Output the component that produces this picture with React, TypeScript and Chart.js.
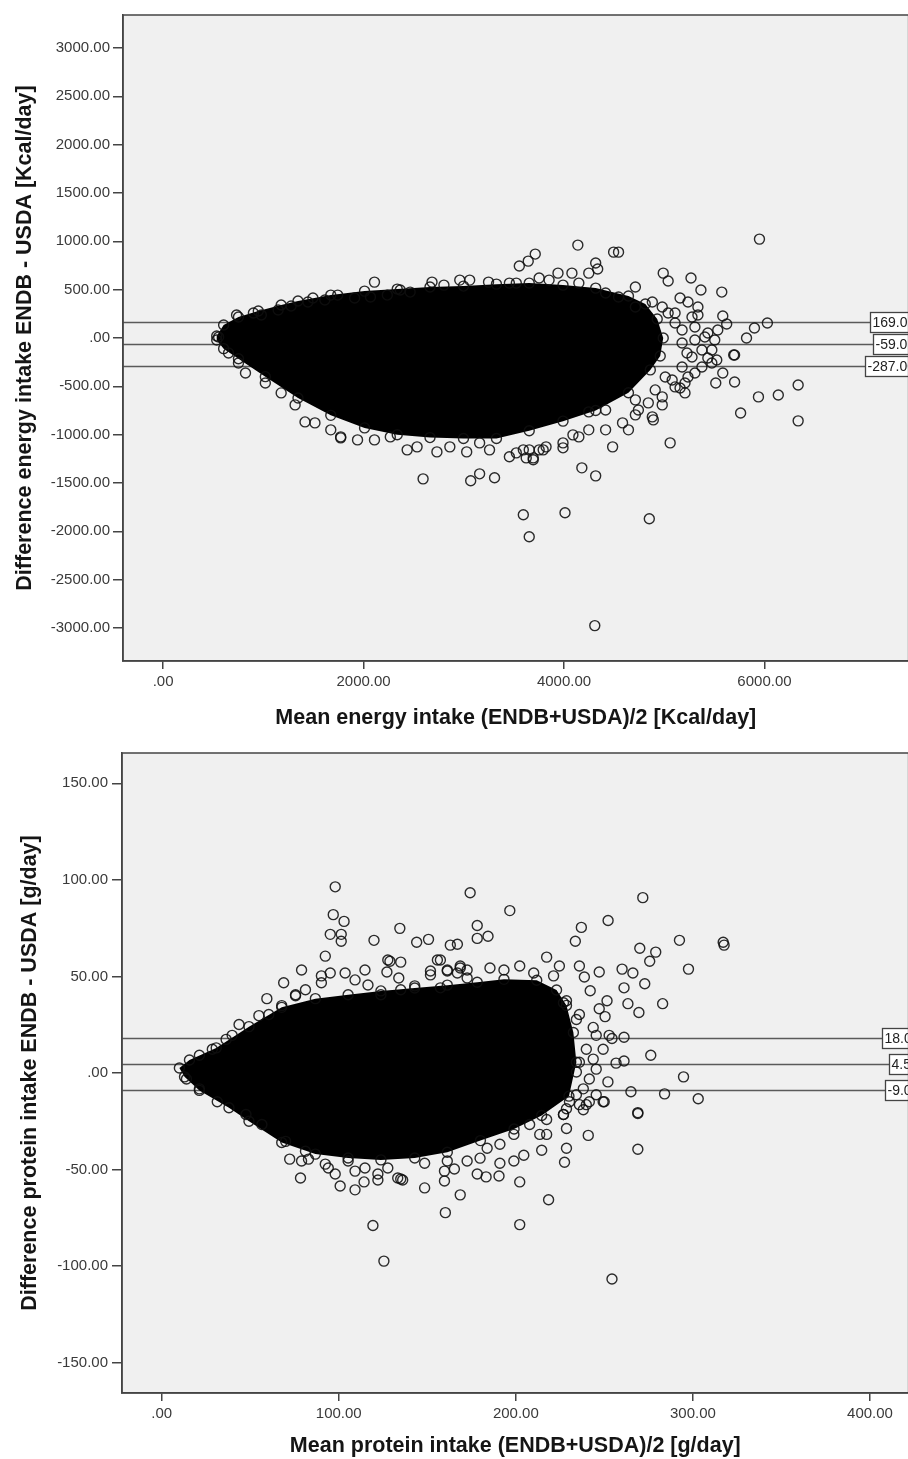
import React, { useEffect, useRef } from 'react';
import { Chart, registerables } from 'chart.js';
Chart.register(...registerables);

const FONT = '"Liberation Sans", Arial, Helvetica, sans-serif';

// ---------------- Energy (top) ----------------
const energyXTicks = [0, 2000, 4000, 6000];
const energyYTicks = [-3000, -2500, -2000, -1500, -1000, -500, 0, 500, 1000, 1500, 2000, 2500, 3000];
const energyLimits = [169, -59, -287];
const energyLimitLabels = ['169.00', '-59.00', '-287.00'];
// dense cloud outline
const energyCloudX = [535, 604, 752, 950, 1178, 1346, 1673, 2010, 2336, 2663, 2997, 3326, 3653, 3990, 4316, 4643, 4811, 4930, 4990,
  4960, 4861, 4643, 4316, 3990, 3653, 3326, 2997, 2663, 2336, 2010, 1673, 1346, 1020, 752, 604, 535];
const energyCloudY = [21, 134, 217, 279, 341, 382, 444, 485, 506, 527, 537, 557, 568, 547, 516, 434, 351, 196, 0,
  -186, -330, -567, -750, -860, -960, -1040, -1040, -1030, -1000, -930, -800, -620, -400, -215, -110, -21];
// circles on the fuzzy edge of the dense cloud
const energyFringeX = [901, 980, 1148, 1277, 1445, 1614, 1911, 2069, 2237, 2366, 2465, 2802, 2960, 3247, 3455, 3524, 3752, 3851, 3940, 4148, 4415, 4544, 4712, 4712,
  554, 653, 752, 1317, 1673, 1772, 1940, 2267, 2534, 2861, 3158, 3257, 3594, 3792];
const energyFringeY = [258, 238, 289, 331, 372, 393, 413, 424, 444, 496, 475, 547, 599, 578, 568, 568, 620, 599, 671, 568, 465, 424, 527, 320,
  10, -155, -258, -692, -950, -1033, -1054, -1023, -1126, -1126, -1085, -1157, -1157, -1157];
// individual points outside the dense cloud
const energyPtsX = [5950, 4138, 3554, 3643, 3713, 2109, 4495, 4544, 4316, 4336, 4079, 4247, 4990, 5039, 5267, 5366, 5574, 5584, 5623, 5900,
  6029, 5821, 5702, 5514, 5702, 5940, 6138, 6336, 6336, 5762, 5059, 4485, 4178, 4316, 2594, 3069, 3158, 3307, 3594, 4010,
  3653, 4851, 4307, 733, 5158, 5237, 5336, 5306, 5435, 5504, 5376, 5435, 5237, 5158, 5207, 4980, 4891, 4712, 4584, 4415,
  4247, 4089, 3990, 3752, 3455, 3623, 5524, 5584, 5693, 1416, 1515, 1178, 1020, 822, 1772, 2109, 2435, 2732, 3029, 3693,
  2683, 3059, 1495, 1742, 4881, 4980, 5108, 5178, 5227, 5178, 5079, 4910, 4712, 5475, 5306,
  5039, 5108, 5277, 5336, 5178, 5277, 5376, 5306, 5207, 5108, 5010, 4980, 4841, 4742, 4881, 4643, 4415, 4247, 4148, 3990,
  3821, 3653, 3524, 3693, 5405, 5534, 5475];
const energyPtsY = [1023, 961, 744, 795, 868, 578, 888, 888, 775, 713, 671, 671, 671, 589, 620, 496, 475, 227, 145, 103,
  155, 0, -176, -465, -455, -609, -589, -486, -857, -775, -1085, -1126, -1343, -1426, -1457, -1477, -1405, -1446, -1828, -1808,
  -2056, -1870, -2975, 238, 413, 372, 238, 114, 52, -21, -124, -207, -403, -517, -568, -692, -847, -795, -878, -744,
  -764, -1002, -1136, -1157, -1229, -1240, -227, -362, -176, -868, -878, -568, -465, -362, -1023, -1054, -1157, -1178, -1178, -1240,
  578, 599, 413, 444, 372, 320, 258, 83, -155, -300, -434, -537, -640, -124, -21,
  258, 155, 217, 320, -52, -196, -300, -362, -465, -506, -403, -609, -671, -744, -816, -950, -950, -950, -1023, -1085,
  -1126, -1157, -1188, -1260, 10, 83, -258];

// ---------------- Protein (bottom) ----------------
const proteinXTicks = [0, 100, 200, 300, 400];
const proteinYTicks = [-150, -100, -50, 0, 50, 100, 150];
const proteinLimits = [18.0, 4.5, -9.0];
const proteinLimitLabels = ['18.00', '4.50', '-9.00'];
const proteinCloudX = [10, 15.7, 30.8, 49.3, 67.8, 86.8, 105.3, 123.8, 142.9, 161.3, 178.2, 193.3, 211.8, 223, 228.6, 232.5, 234.2,
  230, 214.6, 199, 180, 161.3, 142.9, 123.8, 105.3, 86.8, 67.8, 49.3, 38, 21.3, 12.9];
const proteinCloudY = [2.6, 6.7, 13, 24, 34, 38.5, 40.5, 42.5, 44, 45.5, 47, 48.5, 48, 43, 35, 21, 5.6,
  -12, -22, -29, -35, -41, -44, -45, -44, -42, -36, -25, -18, -9, -2];
const proteinFringeX = [21.3, 28.6, 36.4, 39.8, 54.9, 60.5, 67.8, 75.6, 81.2, 90.2, 95.2, 109.2, 116.5, 123.8, 135, 142.9, 151.8, 157.4, 167, 172.5, 14,
  155.7, 161.3, 168.6, 185.4, 193.3, 202.2, 210.1, 224.6, 221.3, 228.6, 235.9, 243.7, 252.7, 239.8, 243.7, 234.2, 241.5, 245.4, 230.3, 226.9, 238.1,
  56.6, 70, 81.2, 94.1, 105.3, 114.8, 127.7, 133.3, 161.3, 172.5, 179.8, 183.8, 191, 198.9, 207.8, 217.4, 213.5, 235.9,
  226.9, 234.2, 245.4, 249.3, 235.9, 245.4, 238.1, 234.2, 228.6, 241.5];
const proteinFringeY = [9.2, 12.3, 17.4, 19.5, 29.7, 30.3, 34.9, 40, 43.1, 46.7, 51.8, 48.2, 45.6, 40.5, 43.1, 45.1, 50.8, 44.1, 51.8, 49.2, -3.1,
  58.5, 53.3, 55.4, 54.4, 53.3, 55.4, 51.8, 55.4, 50.3, 37.4, 30.3, 23.6, 19.5, 12.3, 7.2, 0.5, -3.1, -11.3, -14.9, -21.5, -19,
  -26.7, -35.4, -40.5, -49.2, -45.6, -49.2, -49.2, -54.4, -45.6, -45.6, -44.1, -39, -36.9, -31.8, -26.7, -24.1, -31.8, -16.4,
  36.4, 27.7, 19.5, 12.3, 5.6, 2, -8.2, -11.3, -18.5, -14.9];
const proteinPtsX = [98, 96.9, 103, 95.2, 101.4, 101.4, 119.9, 134.5, 144, 150.7, 174.2, 163, 167, 92.4, 68.9, 79, 43.7, 59.4, 128.9, 135,
  127.2, 133.9, 157.4, 114.8, 178.2, 178.2, 196.6, 271.7, 184.3, 252.1, 237, 233.6, 270, 279, 275.6, 292.4, 317.1, 317.6, 297.5, 217.4,
  235.9, 238.7, 247.1, 260, 266.1, 272.8, 261.1, 242, 251.5, 263.3, 269.5, 282.9, 247.1, 250.4, 261.1, 261.1, 276.2, 294.7, 265, 284,
  303, 268.9, 249.9, 254.3, 256.6, 252, 72.3, 78.4, 100.8, 109.2, 114.3, 119.3, 125.5, 148.5, 160.2, 168.6, 159.7, 178.2, 183.2, 190.5,
  202.2, 202.2, 218.5, 227.5, 228.6, 240.9, 268.9, 268.9, 254.3, 214.6, 204.5, 198.9, 136.1, 122.1, 75.6, 90.2, 103.6, 127.7, 151.8, 161.3,
  168.6, 172.5, 21.3, 31.4, 47.6, 79, 82.9, 92.4, 98, 109.2, 122.1, 135, 148.5, 159.7, 165.3, 191, 217.4, 228.6, 226.9, 239.8, 249.3];
const proteinPtsY = [96.4, 82, 78.5, 71.8, 71.8, 68.2, 68.7, 74.9, 67.7, 69.2, 93.3, 66.2, 66.7, 60.5, 46.7, 53.3, 25.1, 38.5, 57.9, 57.4,
  52.3, 49.2, 58.5, 53.3, 76.4, 69.7, 84.1, 90.8, 70.8, 79, 75.4, 68.2, 64.6, 62.6, 57.9, 68.7, 67.7, 66.2, 53.8, 60,
  55.4, 49.7, 52.3, 53.8, 51.8, 46.2, 44.1, 42.6, 37.4, 35.9, 31.3, 35.9, 33.3, 29.2, 18.5, 6.2, 9.2, -2, -9.7, -10.8,
  -13.3, -20.5, -14.9, 17.9, 5.1, -4.6, -44.6, -54.4, -58.5, -60.5, -56.4, -79, -97.4, -59.5, -72.3, -63.1, -55.9, -52.3, -53.8, -53.3,
  -56.4, -78.5, -65.6, -46.2, -39, -32.3, -21, -39.5, -106.7, -40, -42.6, -45.6, -55.4, -55.4, 40.5, 50.3, 51.8, 58.5, 52.8, 52.8,
  54.4, 53.3, -8.2, -14.9, -21.5, -45.6, -44.6, -47.2, -52.3, -50.8, -52.3, -54.9, -46.7, -50.8, -49.7, -46.7, -31.8, -28.7, -21.5, -16.4, -14.9];

const fmt = (v: number) => (v === 0 ? '.00' : v.toFixed(2));

type Panel = {
  top: number; height: number;
  xMin: number; xMax: number; yMin: number; yMax: number;
  xTicks: number[]; yTicks: number[];
  limits: number[]; limitLabels: string[];
  cloudX: number[]; cloudY: number[];
  fringeX: number[]; fringeY: number[];
  ptsX: number[]; ptsY: number[];
  xTitle: string; yTitle: string;
  yAxisWidth: number; xAxisHeight: number; padTop: number;
  yTitlePad: number; xTitlePad: number; yTickPad: number; labelShift: number;
};

const panels: Panel[] = [
  {
    top: 0, height: 740,
    xMin: -400, xMax: 7438, yMin: -3341, yMax: 3341,
    xTicks: energyXTicks, yTicks: energyYTicks,
    limits: energyLimits, limitLabels: energyLimitLabels,
    cloudX: energyCloudX, cloudY: energyCloudY,
    fringeX: energyFringeX, fringeY: energyFringeY,
    ptsX: energyPtsX, ptsY: energyPtsY,
    xTitle: 'Mean energy intake (ENDB+USDA)/2 [Kcal/day]',
    yTitle: 'Difference energy intake ENDB - USDA [Kcal/day]',
    yAxisWidth: 123, xAxisHeight: 79, padTop: 15,
    yTitlePad: 12, xTitlePad: 9, yTickPad: 3, labelShift: 9,
  },
  {
    top: 740, height: 719,
    xMin: -22.4, xMax: 421.8, yMin: -165.7, yMax: 165.7,
    xTicks: proteinXTicks, yTicks: proteinYTicks,
    limits: proteinLimits, limitLabels: proteinLimitLabels,
    cloudX: proteinCloudX, cloudY: proteinCloudY,
    fringeX: proteinFringeX, fringeY: proteinFringeY,
    ptsX: proteinPtsX, ptsY: proteinPtsY,
    xTitle: 'Mean protein intake (ENDB+USDA)/2 [g/day]',
    yTitle: 'Difference protein intake ENDB - USDA [g/day]',
    yAxisWidth: 122, xAxisHeight: 66, padTop: 8,
    yTitlePad: 17, xTitlePad: 0, yTickPad: 4, labelShift: 13,
  },
];

const CANVAS_W = 915;

function makePlugin(p: Panel) {
  return {
    id: 'panelDeco',
    beforeDraw(chart: any) {
      const { ctx, chartArea: a } = chart;
      ctx.save();
      ctx.fillStyle = '#ffffff';
      ctx.fillRect(0, 0, chart.width, chart.height);
      ctx.fillStyle = '#f0f0f0';
      ctx.fillRect(a.left, a.top, a.right - a.left, a.bottom - a.top);
      ctx.restore();
    },
    beforeDatasetsDraw(chart: any) {
      const { ctx, chartArea: a } = chart;
      const x = chart.scales.x;
      const y = chart.scales.y;
      ctx.save();
      ctx.font = `14px ${FONT}`;
      p.limits.forEach((v, i) => {
        const py = Math.round(y.getPixelForValue(v)) + 0.5;
        const label = p.limitLabels[i];
        const tw = ctx.measureText(label).width;
        const boxR = a.right + p.labelShift;
        const boxL = Math.round(boxR - tw - 5) + 0.5;
        ctx.strokeStyle = '#5a5a5a';
        ctx.lineWidth = 1.6;
        ctx.beginPath();
        ctx.moveTo(a.left, py);
        ctx.lineTo(boxL, py);
        ctx.stroke();
        ctx.fillStyle = '#ffffff';
        ctx.fillRect(boxL, py - 10, boxR - boxL, 20);
        ctx.lineWidth = 1.3;
        ctx.strokeStyle = '#444';
        ctx.strokeRect(boxL, py - 10, boxR - boxL, 20);
        ctx.fillStyle = '#222';
        ctx.textAlign = 'left';
        ctx.textBaseline = 'middle';
        ctx.fillText(label, boxL + 2, py + 1);
      });
      ctx.beginPath();
      ctx.rect(a.left, a.top, a.right - a.left, a.bottom - a.top);
      ctx.clip();
      ctx.beginPath();
      p.cloudX.forEach((v, i) => {
        const px = x.getPixelForValue(v);
        const py = y.getPixelForValue(p.cloudY[i]);
        if (i === 0) ctx.moveTo(px, py); else ctx.lineTo(px, py);
      });
      ctx.closePath();
      ctx.fillStyle = '#000';
      ctx.fill();
      ctx.restore();
    },
    afterDraw(chart: any) {
      const { ctx, chartArea: a } = chart;
      ctx.save();
      ctx.strokeStyle = '#444';
      ctx.lineWidth = 1.5;
      ctx.strokeRect(a.left, a.top, a.right - a.left, a.bottom - a.top);
      ctx.restore();
    },
  };
}

function PanelChart({ p }: { p: Panel }) {
  const ref = useRef<HTMLCanvasElement | null>(null);
  useEffect(() => {
    if (!ref.current) return;
    const pointStyle = {
      showLine: false,
      pointRadius: 5,
      pointBorderWidth: 1.4,
      pointBorderColor: 'rgba(15,15,15,0.88)',
      pointBackgroundColor: 'rgba(0,0,0,0)',
    };
    const chart = new Chart(ref.current, {
      type: 'scatter',
      data: {
        datasets: [
          { ...pointStyle, order: 1, data: p.ptsX.map((xv, i) => ({ x: xv, y: p.ptsY[i] })) },
          { ...pointStyle, order: 2, data: p.fringeX.map((xv, i) => ({ x: xv, y: p.fringeY[i] })) },
          { ...pointStyle, order: 3, data: p.cloudX.map((xv, i) => ({ x: xv, y: p.cloudY[i] })) },
        ],
      },
      options: {
        responsive: false,
        animation: false,
        maintainAspectRatio: false,
        events: [],
        layout: { padding: { top: p.padTop, left: 0, right: 0, bottom: 0 } },
        plugins: { legend: { display: false }, tooltip: { enabled: false } },
        scales: {
          x: {
            type: 'linear',
            min: p.xMin,
            max: p.xMax,
            afterBuildTicks: (s: any) => { s.ticks = p.xTicks.map((v) => ({ value: v })); },
            afterFit: (s: any) => { s.height = p.xAxisHeight; },
            ticks: {
              callback: (v: any) => fmt(Number(v)),
              font: { family: FONT, size: 15 },
              color: '#3a3a3a',
              padding: 4,
              maxRotation: 0,
              autoSkip: false,
            },
            grid: { drawOnChartArea: false, drawTicks: true, tickLength: 8, color: '#444', lineWidth: 1.5 },
            border: { display: true, color: '#444', width: 1.5 },
            title: {
              display: true,
              text: p.xTitle,
              font: { family: FONT, size: 21.5, weight: 'bold' },
              color: '#151515',
              padding: { top: 0, bottom: p.xTitlePad },
            },
          },
          y: {
            type: 'linear',
            min: p.yMin,
            max: p.yMax,
            afterBuildTicks: (s: any) => { s.ticks = p.yTicks.map((v) => ({ value: v })); },
            afterFit: (s: any) => { s.width = p.yAxisWidth; },
            ticks: {
              callback: (v: any) => fmt(Number(v)),
              font: { family: FONT, size: 15 },
              color: '#3a3a3a',
              padding: p.yTickPad,
              autoSkip: false,
            },
            grid: { drawOnChartArea: false, drawTicks: true, tickLength: 10, color: '#444', lineWidth: 1.5 },
            border: { display: true, color: '#444', width: 1.5 },
            title: {
              display: true,
              text: p.yTitle,
              font: { family: FONT, size: 21.5, weight: 'bold' },
              color: '#151515',
              padding: { top: p.yTitlePad, bottom: 0 },
            },
          },
        },
      },
      plugins: [makePlugin(p)],
    } as any);
    return () => chart.destroy();
  }, [p]);
  return (
    <canvas
      ref={ref}
      width={CANVAS_W}
      height={p.height}
      style={{ position: 'absolute', left: 0, top: p.top, width: CANVAS_W, height: p.height, display: 'block' }}
    />
  );
}

export default function App() {
  return (
    <div style={{ position: 'absolute', left: 0, top: 0, width: 908, height: 1459, overflow: 'hidden', background: '#fff' }}>
      {panels.map((p, i) => (
        <PanelChart key={i} p={p} />
      ))}
    </div>
  );
}
